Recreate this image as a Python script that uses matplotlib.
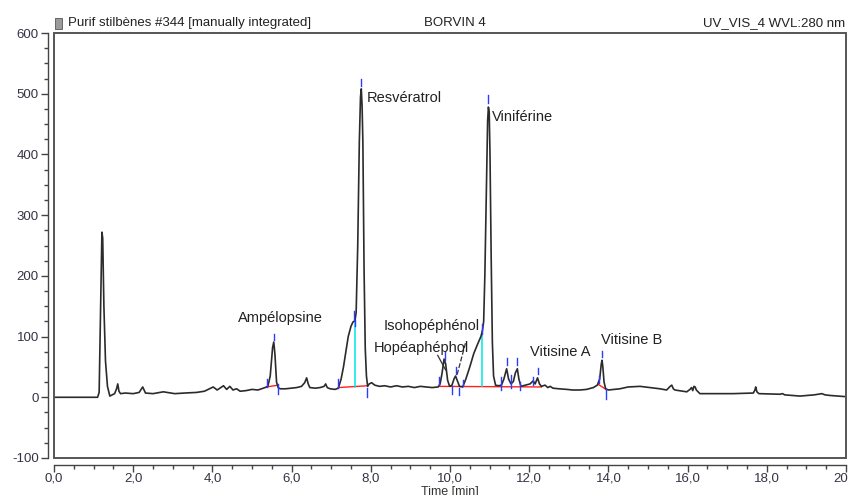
import matplotlib
matplotlib.use("Agg")
import matplotlib.pyplot as plt
from matplotlib.ticker import MultipleLocator, FuncFormatter
from matplotlib.patches import Rectangle

plt.rcParams['font.family'] = ['Liberation Sans', 'DejaVu Sans']

# ---- chromatogram trace (time [min], signal [mAU]) ----
time_min = [0.0, 1.10, 1.14, 1.17, 1.21, 1.23, 1.26, 1.30, 1.35, 1.41, 1.47, 1.53, 1.58, 1.61,
             1.64, 1.68, 1.80, 2.00, 2.15, 2.24, 2.31, 2.50, 2.76, 3.05, 3.30, 3.60, 3.80, 4.02,
             4.12, 4.28, 4.36, 4.44, 4.52, 4.61, 4.70, 4.85, 5.00, 5.15, 5.33, 5.40, 5.46, 5.52,
             5.55, 5.58, 5.62, 5.66, 5.71, 5.85, 6.00, 6.13, 6.25, 6.33, 6.38, 6.42, 6.46, 6.60,
             6.72, 6.82, 6.86, 6.90, 6.97, 7.10, 7.18, 7.25, 7.31, 7.37, 7.43, 7.50, 7.55, 7.60,
             7.63, 7.67, 7.71, 7.74, 7.76, 7.78, 7.80, 7.83, 7.86, 7.89, 7.92, 7.96, 8.02, 8.10,
             8.22, 8.35, 8.50, 8.65, 8.80, 8.95, 9.10, 9.25, 9.40, 9.55, 9.70, 9.75, 9.80, 9.85,
             9.89, 9.94, 9.99, 10.05, 10.10, 10.14, 10.18, 10.24, 10.32, 10.40, 10.50, 10.60,
             10.70, 10.78, 10.82, 10.85, 10.88, 10.92, 10.95, 10.97, 10.99, 11.01, 11.04, 11.07,
             11.10, 11.15, 11.22, 11.30, 11.36, 11.43, 11.48, 11.54, 11.60, 11.65, 11.70, 11.74,
             11.79, 11.90, 12.02, 12.10, 12.15, 12.21, 12.26, 12.31, 12.40, 12.47, 12.53, 12.60,
             12.75, 12.95, 13.10, 13.28, 13.45, 13.62, 13.72, 13.78, 13.82, 13.84, 13.86, 13.89,
             13.93, 14.00, 14.29, 14.50, 14.80, 15.05, 15.30, 15.47, 15.56, 15.60, 15.64, 15.68,
             15.98, 16.06, 16.10, 16.13, 16.16, 16.19, 16.22, 16.31, 16.70, 17.15, 17.66, 17.70,
             17.72, 17.75, 17.80, 18.33, 18.40, 18.45, 18.84, 19.20, 19.39, 19.47, 19.60, 20.0]
signal_mau = [0, 0, 8, 120, 272, 262, 150, 60, 18, 2, 4, 6, 14, 22,
              10, 6, 7, 6, 8, 17, 7, 6, 9, 6, 7, 8, 10, 17,
              12, 19, 13, 18, 12, 14, 10, 11, 13, 12, 16, 18, 35, 82,
              91, 70, 25, 16, 14, 14, 15, 16, 18, 24, 32, 22, 16, 15,
              16, 18, 22, 16, 14, 13, 15, 30, 50, 75, 100, 117, 124, 126,
              140, 250, 420, 495, 508, 480, 420, 210, 80, 35, 18, 22, 24, 20,
              18, 19, 17, 19, 17, 18, 16, 18, 17, 16, 17, 22, 40, 63,
              55, 28, 18, 20, 30, 35, 28, 18, 17, 30, 50, 72,
              88, 100, 110, 125, 200, 350, 455, 478, 470, 400, 230, 90,
              35, 20, 19, 20, 30, 47, 30, 22, 26, 40, 47, 30,
              18, 20, 22, 27, 22, 32, 22, 18, 20, 16, 18, 15,
              14, 13, 12, 12, 13, 16, 20, 30, 55, 61, 50, 25,
              14, 12, 14, 17, 18, 16, 14, 12, 18, 20, 14, 12,
              9, 13, 16, 11, 18, 17, 12, 6, 6, 6, 7, 12,
              17, 9, 6, 5, 6, 4, 2, 4, 6, 4, 3, 1]

# ---- integration marks ----
event_t = [5.37, 5.55, 5.65, 7.18, 7.57, 7.61, 7.76, 7.91, 9.73, 9.87, 10.04, 10.15, 10.22, 10.32,
           10.82, 10.97, 11.28, 11.43, 11.55, 11.70, 11.78, 12.10, 12.21, 13.75, 13.84, 13.94]
event_lo = [17, 95, 6, 15, 128, 117, 512, 0, 20, 62, 6, 39, 3, 18,
            105, 484, 12, 53, 15, 53, 12, 20, 38, 23, 66, -2]
event_hi = [30, 104, 22, 30, 142, 128, 524, 16, 33, 75, 18, 50, 16, 29,
            120, 498, 33, 64, 36, 64, 25, 33, 48, 35, 77, 14]

baseline_t = [[5.37, 5.66], [7.18, 7.91], [9.73, 12.31], [13.75, 13.94]]
baseline_y = [[17, 20], [16, 19], [18, 17], [21, 13]]

drop_t = [7.60, 10.82]
drop_lo = [17, 18]
drop_hi = [125, 108]

peak_names = ['Ampélopsine', 'Resvératrol', 'Viniférine', 'Isohopéphénol', 'Hopéaphéphol',
              'Vitisine A', 'Vitisine B']
label_t = [4.65, 7.90, 11.06, 8.33, 8.08, 12.02, 13.81]
label_y = [130, 493, 461, 117, 81, 74, 94]

W, H = 848, 495
fig = plt.figure(figsize=(W / 100, H / 100), dpi=100)
ax = fig.add_axes([54 / W, (H - 458) / H, (846 - 54) / W, (458 - 33) / H])

ax.plot(time_min, signal_mau, color='#2b2b2b', lw=1.2, zorder=3)

for t, lo, hi in zip(event_t, event_lo, event_hi):
    ax.plot([t, t], [lo, hi], color='#2a3cff', lw=1.0, zorder=4)
for bt, by in zip(baseline_t, baseline_y):
    ax.plot(bt, by, color='#ff2020', lw=1.0, zorder=2)
for t, lo, hi in zip(drop_t, drop_lo, drop_hi):
    ax.plot([t, t], [lo, hi], color='#00e5e5', lw=1.1, zorder=2)

for name, t, y in zip(peak_names, label_t, label_y):
    ax.text(t, y, name, fontsize=10.5, color='#222222', ha='left', va='center', zorder=5)

# leader lines for the two small peaks
ax.plot([9.69, 9.89], [69, 45], color='#333333', lw=0.9)
ax.plot([10.39, 10.17], [89, 35], color='#333333', lw=0.9, ls=(0, (4, 1.5)))

ax.set_xlim(0, 20)
ax.set_ylim(-100, 600)

for s in ['top', 'right']:
    ax.spines[s].set_visible(False)
ax.spines['left'].set_position(('outward', 4))
ax.spines['bottom'].set_position(('outward', 5))
for s in ['left', 'bottom']:
    ax.spines[s].set_color('#444444')
    ax.spines[s].set_linewidth(1.0)

ax.add_patch(Rectangle((0, 0), 1, 1, transform=ax.transAxes, fill=False,
                       edgecolor='#555555', lw=1.4, clip_on=False, zorder=6))

ax.xaxis.set_major_locator(MultipleLocator(2))
ax.xaxis.set_minor_locator(MultipleLocator(0.5))
ax.yaxis.set_major_locator(MultipleLocator(100))
ax.yaxis.set_minor_locator(MultipleLocator(25))
ax.xaxis.set_major_formatter(FuncFormatter(lambda v, p: f"{v:.1f}".replace('.', ',')))
ax.yaxis.set_major_formatter(FuncFormatter(lambda v, p: f"{int(round(v))}"))
ax.tick_params(axis='both', which='major', direction='out', length=5, width=1,
               color='#444444', labelsize=9.5, labelcolor='#333344', pad=2)
ax.tick_params(axis='x', which='major', pad=0.5)
ax.tick_params(axis='both', which='minor', direction='out', length=3, width=1, color='#444444')

fig.text(450 / W, 1 - 486 / H, 'Time [min]', ha='center', va='top', fontsize=9, color='#333333')

ty = 1 - 23 / H
fig.text(68 / W, ty, 'Purif stilbènes #344 [manually integrated]', ha='left', va='center',
         fontsize=9.5, color='#222222')
fig.text(455 / W, ty, 'BORVIN 4', ha='center', va='center', fontsize=9.5, color='#222222')
fig.text(845 / W, ty, 'UV_VIS_4 WVL:280 nm', ha='right', va='center', fontsize=9.5, color='#222222')
# small file icon before the title
fig.patches.append(Rectangle((55 / W, 1 - 29 / H), 7 / W, 11 / H, transform=fig.transFigure,
                             facecolor='#9a9a9a', edgecolor='#555555', lw=0.6))

fig.savefig('out.png', dpi=100)
